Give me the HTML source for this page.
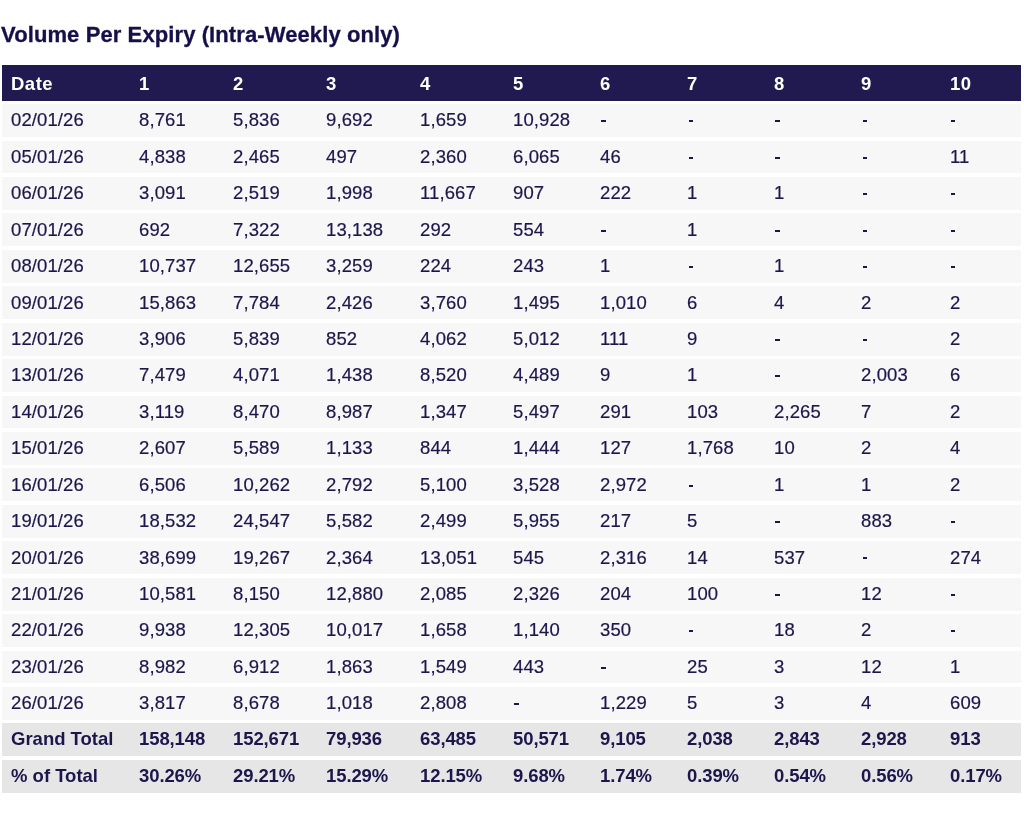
<!DOCTYPE html><html><head><meta charset="utf-8"><style>
html,body{margin:0;padding:0;background:#fff;}
body{width:1024px;height:823px;position:relative;overflow:hidden;font-family:"Liberation Sans",sans-serif;color:#1c164b;}
.t{will-change:transform;position:absolute;left:1.3px;-webkit-text-stroke:0.3px #16104a;top:24.0px;font-size:22px;font-weight:bold;letter-spacing:0.1px;white-space:nowrap;line-height:1;color:#16104a;}
.r{position:absolute;left:2px;width:1019px;}
.h{background:#211a50;color:#fff;font-weight:bold;font-size:18.5px;letter-spacing:0.5px;}
.d{-webkit-text-stroke:0.2px #1c164b;background:#f7f7f7;font-size:18.5px;letter-spacing:0.1px;}
.g{background:#e6e6e6;font-weight:bold;-webkit-text-stroke:0.0px #1c164b;font-size:18.5px;letter-spacing:0.0px;}
.c{position:absolute;white-space:nowrap;line-height:0;will-change:transform;transform-origin:0 0;}
.d .c{transform:translateY(0.3px) scaleY(1.02);}
.g .c{transform:translateY(-1.0px);}
.p .c{transform:translateY(-0.5px);}
.dash{position:absolute;width:4.6px;height:2px;background:#1c164b;}
</style></head><body>
<div class="t">Volume Per Expiry (Intra-Weekly only)</div>
<div class="r h" style="top:64.80px;height:35.90px"><span class="c" style="left:8.90px;top:19.20px">Date</span><span class="c" style="left:137.20px;top:19.20px">1</span><span class="c" style="left:230.90px;top:19.20px">2</span><span class="c" style="left:324.20px;top:19.20px">3</span><span class="c" style="left:417.60px;top:19.20px">4</span><span class="c" style="left:511.00px;top:19.20px">5</span><span class="c" style="left:597.80px;top:19.20px">6</span><span class="c" style="left:685.20px;top:19.20px">7</span><span class="c" style="left:772.00px;top:19.20px">8</span><span class="c" style="left:859.20px;top:19.20px">9</span><span class="c" style="left:947.60px;top:19.20px">10</span></div>
<div class="r d" style="top:104.10px;height:32.90px"><span class="c" style="left:8.90px;top:16.30px">02/01/26</span><span class="c" style="left:137.20px;top:16.30px">8,761</span><span class="c" style="left:230.90px;top:16.30px">5,836</span><span class="c" style="left:324.20px;top:16.30px">9,692</span><span class="c" style="left:417.60px;top:16.30px">1,659</span><span class="c" style="left:511.00px;top:16.30px">10,928</span><span class="dash" style="left:599.10px;top:15.90px"></span><span class="dash" style="left:686.50px;top:15.90px"></span><span class="dash" style="left:773.30px;top:15.90px"></span><span class="dash" style="left:860.50px;top:15.90px"></span><span class="dash" style="left:948.90px;top:15.90px"></span></div>
<div class="r d" style="top:140.53px;height:32.90px"><span class="c" style="left:8.90px;top:16.30px">05/01/26</span><span class="c" style="left:137.20px;top:16.30px">4,838</span><span class="c" style="left:230.90px;top:16.30px">2,465</span><span class="c" style="left:324.20px;top:16.30px">497</span><span class="c" style="left:417.60px;top:16.30px">2,360</span><span class="c" style="left:511.00px;top:16.30px">6,065</span><span class="c" style="left:597.80px;top:16.30px">46</span><span class="dash" style="left:686.50px;top:16.47px"></span><span class="dash" style="left:773.30px;top:16.47px"></span><span class="dash" style="left:860.50px;top:16.47px"></span><span class="c" style="left:947.60px;top:16.30px">11</span></div>
<div class="r d" style="top:176.96px;height:32.90px"><span class="c" style="left:8.90px;top:16.30px">06/01/26</span><span class="c" style="left:137.20px;top:16.30px">3,091</span><span class="c" style="left:230.90px;top:16.30px">2,519</span><span class="c" style="left:324.20px;top:16.30px">1,998</span><span class="c" style="left:417.60px;top:16.30px">11,667</span><span class="c" style="left:511.00px;top:16.30px">907</span><span class="c" style="left:597.80px;top:16.30px">222</span><span class="c" style="left:685.20px;top:16.30px">1</span><span class="c" style="left:772.00px;top:16.30px">1</span><span class="dash" style="left:860.50px;top:16.04px"></span><span class="dash" style="left:948.90px;top:16.04px"></span></div>
<div class="r d" style="top:213.39px;height:32.90px"><span class="c" style="left:8.90px;top:16.30px">07/01/26</span><span class="c" style="left:137.20px;top:16.30px">692</span><span class="c" style="left:230.90px;top:16.30px">7,322</span><span class="c" style="left:324.20px;top:16.30px">13,138</span><span class="c" style="left:417.60px;top:16.30px">292</span><span class="c" style="left:511.00px;top:16.30px">554</span><span class="dash" style="left:599.10px;top:16.61px"></span><span class="c" style="left:685.20px;top:16.30px">1</span><span class="dash" style="left:773.30px;top:16.61px"></span><span class="dash" style="left:860.50px;top:16.61px"></span><span class="dash" style="left:948.90px;top:16.61px"></span></div>
<div class="r d" style="top:249.82px;height:32.90px"><span class="c" style="left:8.90px;top:16.30px">08/01/26</span><span class="c" style="left:137.20px;top:16.30px">10,737</span><span class="c" style="left:230.90px;top:16.30px">12,655</span><span class="c" style="left:324.20px;top:16.30px">3,259</span><span class="c" style="left:417.60px;top:16.30px">224</span><span class="c" style="left:511.00px;top:16.30px">243</span><span class="c" style="left:597.80px;top:16.30px">1</span><span class="dash" style="left:686.50px;top:16.18px"></span><span class="c" style="left:772.00px;top:16.30px">1</span><span class="dash" style="left:860.50px;top:16.18px"></span><span class="dash" style="left:948.90px;top:16.18px"></span></div>
<div class="r d" style="top:286.25px;height:32.90px"><span class="c" style="left:8.90px;top:16.30px">09/01/26</span><span class="c" style="left:137.20px;top:16.30px">15,863</span><span class="c" style="left:230.90px;top:16.30px">7,784</span><span class="c" style="left:324.20px;top:16.30px">2,426</span><span class="c" style="left:417.60px;top:16.30px">3,760</span><span class="c" style="left:511.00px;top:16.30px">1,495</span><span class="c" style="left:597.80px;top:16.30px">1,010</span><span class="c" style="left:685.20px;top:16.30px">6</span><span class="c" style="left:772.00px;top:16.30px">4</span><span class="c" style="left:859.20px;top:16.30px">2</span><span class="c" style="left:947.60px;top:16.30px">2</span></div>
<div class="r d" style="top:322.68px;height:32.90px"><span class="c" style="left:8.90px;top:16.30px">12/01/26</span><span class="c" style="left:137.20px;top:16.30px">3,906</span><span class="c" style="left:230.90px;top:16.30px">5,839</span><span class="c" style="left:324.20px;top:16.30px">852</span><span class="c" style="left:417.60px;top:16.30px">4,062</span><span class="c" style="left:511.00px;top:16.30px">5,012</span><span class="c" style="left:597.80px;top:16.30px">111</span><span class="c" style="left:685.20px;top:16.30px">9</span><span class="dash" style="left:773.30px;top:16.32px"></span><span class="dash" style="left:860.50px;top:16.32px"></span><span class="c" style="left:947.60px;top:16.30px">2</span></div>
<div class="r d" style="top:359.11px;height:32.90px"><span class="c" style="left:8.90px;top:16.30px">13/01/26</span><span class="c" style="left:137.20px;top:16.30px">7,479</span><span class="c" style="left:230.90px;top:16.30px">4,071</span><span class="c" style="left:324.20px;top:16.30px">1,438</span><span class="c" style="left:417.60px;top:16.30px">8,520</span><span class="c" style="left:511.00px;top:16.30px">4,489</span><span class="c" style="left:597.80px;top:16.30px">9</span><span class="c" style="left:685.20px;top:16.30px">1</span><span class="dash" style="left:773.30px;top:15.89px"></span><span class="c" style="left:859.20px;top:16.30px">2,003</span><span class="c" style="left:947.60px;top:16.30px">6</span></div>
<div class="r d" style="top:395.54px;height:32.90px"><span class="c" style="left:8.90px;top:16.30px">14/01/26</span><span class="c" style="left:137.20px;top:16.30px">3,119</span><span class="c" style="left:230.90px;top:16.30px">8,470</span><span class="c" style="left:324.20px;top:16.30px">8,987</span><span class="c" style="left:417.60px;top:16.30px">1,347</span><span class="c" style="left:511.00px;top:16.30px">5,497</span><span class="c" style="left:597.80px;top:16.30px">291</span><span class="c" style="left:685.20px;top:16.30px">103</span><span class="c" style="left:772.00px;top:16.30px">2,265</span><span class="c" style="left:859.20px;top:16.30px">7</span><span class="c" style="left:947.60px;top:16.30px">2</span></div>
<div class="r d" style="top:431.97px;height:32.90px"><span class="c" style="left:8.90px;top:16.30px">15/01/26</span><span class="c" style="left:137.20px;top:16.30px">2,607</span><span class="c" style="left:230.90px;top:16.30px">5,589</span><span class="c" style="left:324.20px;top:16.30px">1,133</span><span class="c" style="left:417.60px;top:16.30px">844</span><span class="c" style="left:511.00px;top:16.30px">1,444</span><span class="c" style="left:597.80px;top:16.30px">127</span><span class="c" style="left:685.20px;top:16.30px">1,768</span><span class="c" style="left:772.00px;top:16.30px">10</span><span class="c" style="left:859.20px;top:16.30px">2</span><span class="c" style="left:947.60px;top:16.30px">4</span></div>
<div class="r d" style="top:468.40px;height:32.90px"><span class="c" style="left:8.90px;top:16.30px">16/01/26</span><span class="c" style="left:137.20px;top:16.30px">6,506</span><span class="c" style="left:230.90px;top:16.30px">10,262</span><span class="c" style="left:324.20px;top:16.30px">2,792</span><span class="c" style="left:417.60px;top:16.30px">5,100</span><span class="c" style="left:511.00px;top:16.30px">3,528</span><span class="c" style="left:597.80px;top:16.30px">2,972</span><span class="dash" style="left:686.50px;top:16.60px"></span><span class="c" style="left:772.00px;top:16.30px">1</span><span class="c" style="left:859.20px;top:16.30px">1</span><span class="c" style="left:947.60px;top:16.30px">2</span></div>
<div class="r d" style="top:504.83px;height:32.90px"><span class="c" style="left:8.90px;top:16.30px">19/01/26</span><span class="c" style="left:137.20px;top:16.30px">18,532</span><span class="c" style="left:230.90px;top:16.30px">24,547</span><span class="c" style="left:324.20px;top:16.30px">5,582</span><span class="c" style="left:417.60px;top:16.30px">2,499</span><span class="c" style="left:511.00px;top:16.30px">5,955</span><span class="c" style="left:597.80px;top:16.30px">217</span><span class="c" style="left:685.20px;top:16.30px">5</span><span class="dash" style="left:773.30px;top:16.17px"></span><span class="c" style="left:859.20px;top:16.30px">883</span><span class="dash" style="left:948.90px;top:16.17px"></span></div>
<div class="r d" style="top:541.26px;height:32.90px"><span class="c" style="left:8.90px;top:16.30px">20/01/26</span><span class="c" style="left:137.20px;top:16.30px">38,699</span><span class="c" style="left:230.90px;top:16.30px">19,267</span><span class="c" style="left:324.20px;top:16.30px">2,364</span><span class="c" style="left:417.60px;top:16.30px">13,051</span><span class="c" style="left:511.00px;top:16.30px">545</span><span class="c" style="left:597.80px;top:16.30px">2,316</span><span class="c" style="left:685.20px;top:16.30px">14</span><span class="c" style="left:772.00px;top:16.30px">537</span><span class="dash" style="left:860.50px;top:15.74px"></span><span class="c" style="left:947.60px;top:16.30px">274</span></div>
<div class="r d" style="top:577.69px;height:32.90px"><span class="c" style="left:8.90px;top:16.30px">21/01/26</span><span class="c" style="left:137.20px;top:16.30px">10,581</span><span class="c" style="left:230.90px;top:16.30px">8,150</span><span class="c" style="left:324.20px;top:16.30px">12,880</span><span class="c" style="left:417.60px;top:16.30px">2,085</span><span class="c" style="left:511.00px;top:16.30px">2,326</span><span class="c" style="left:597.80px;top:16.30px">204</span><span class="c" style="left:685.20px;top:16.30px">100</span><span class="dash" style="left:773.30px;top:16.31px"></span><span class="c" style="left:859.20px;top:16.30px">12</span><span class="dash" style="left:948.90px;top:16.31px"></span></div>
<div class="r d" style="top:614.12px;height:32.90px"><span class="c" style="left:8.90px;top:16.30px">22/01/26</span><span class="c" style="left:137.20px;top:16.30px">9,938</span><span class="c" style="left:230.90px;top:16.30px">12,305</span><span class="c" style="left:324.20px;top:16.30px">10,017</span><span class="c" style="left:417.60px;top:16.30px">1,658</span><span class="c" style="left:511.00px;top:16.30px">1,140</span><span class="c" style="left:597.80px;top:16.30px">350</span><span class="dash" style="left:686.50px;top:15.88px"></span><span class="c" style="left:772.00px;top:16.30px">18</span><span class="c" style="left:859.20px;top:16.30px">2</span><span class="dash" style="left:948.90px;top:15.88px"></span></div>
<div class="r d" style="top:650.55px;height:32.90px"><span class="c" style="left:8.90px;top:16.30px">23/01/26</span><span class="c" style="left:137.20px;top:16.30px">8,982</span><span class="c" style="left:230.90px;top:16.30px">6,912</span><span class="c" style="left:324.20px;top:16.30px">1,863</span><span class="c" style="left:417.60px;top:16.30px">1,549</span><span class="c" style="left:511.00px;top:16.30px">443</span><span class="dash" style="left:599.10px;top:16.45px"></span><span class="c" style="left:685.20px;top:16.30px">25</span><span class="c" style="left:772.00px;top:16.30px">3</span><span class="c" style="left:859.20px;top:16.30px">12</span><span class="c" style="left:947.60px;top:16.30px">1</span></div>
<div class="r d" style="top:686.98px;height:32.90px"><span class="c" style="left:8.90px;top:16.30px">26/01/26</span><span class="c" style="left:137.20px;top:16.30px">3,817</span><span class="c" style="left:230.90px;top:16.30px">8,678</span><span class="c" style="left:324.20px;top:16.30px">1,018</span><span class="c" style="left:417.60px;top:16.30px">2,808</span><span class="dash" style="left:512.30px;top:16.02px"></span><span class="c" style="left:597.80px;top:16.30px">1,229</span><span class="c" style="left:685.20px;top:16.30px">5</span><span class="c" style="left:772.00px;top:16.30px">3</span><span class="c" style="left:859.20px;top:16.30px">4</span><span class="c" style="left:947.60px;top:16.30px">609</span></div>
<div class="r g" style="top:723.41px;height:32.90px"><span class="c" style="left:8.90px;top:16.30px;letter-spacing:0.0px">Grand Total</span><span class="c" style="left:137.20px;top:16.30px;letter-spacing:-0.1px">158,148</span><span class="c" style="left:230.90px;top:16.30px;letter-spacing:-0.1px">152,671</span><span class="c" style="left:324.20px;top:16.30px;letter-spacing:-0.1px">79,936</span><span class="c" style="left:417.60px;top:16.30px;letter-spacing:-0.1px">63,485</span><span class="c" style="left:511.00px;top:16.30px;letter-spacing:-0.1px">50,571</span><span class="c" style="left:597.80px;top:16.30px;letter-spacing:-0.1px">9,105</span><span class="c" style="left:685.20px;top:16.30px;letter-spacing:-0.1px">2,038</span><span class="c" style="left:772.00px;top:16.30px;letter-spacing:-0.1px">2,843</span><span class="c" style="left:859.20px;top:16.30px;letter-spacing:-0.1px">2,928</span><span class="c" style="left:947.60px;top:16.30px;letter-spacing:-0.1px">913</span></div>
<div class="r g p" style="top:759.84px;height:32.90px"><span class="c" style="left:8.90px;top:16.30px;letter-spacing:0.0px">% of Total</span><span class="c" style="left:137.20px;top:16.30px;letter-spacing:-0.1px">30.26%</span><span class="c" style="left:230.90px;top:16.30px;letter-spacing:-0.1px">29.21%</span><span class="c" style="left:324.20px;top:16.30px;letter-spacing:-0.1px">15.29%</span><span class="c" style="left:417.60px;top:16.30px;letter-spacing:-0.1px">12.15%</span><span class="c" style="left:511.00px;top:16.30px;letter-spacing:-0.1px">9.68%</span><span class="c" style="left:597.80px;top:16.30px;letter-spacing:-0.1px">1.74%</span><span class="c" style="left:685.20px;top:16.30px;letter-spacing:-0.1px">0.39%</span><span class="c" style="left:772.00px;top:16.30px;letter-spacing:-0.1px">0.54%</span><span class="c" style="left:859.20px;top:16.30px;letter-spacing:-0.1px">0.56%</span><span class="c" style="left:947.60px;top:16.30px;letter-spacing:-0.1px">0.17%</span></div>
</body></html>
